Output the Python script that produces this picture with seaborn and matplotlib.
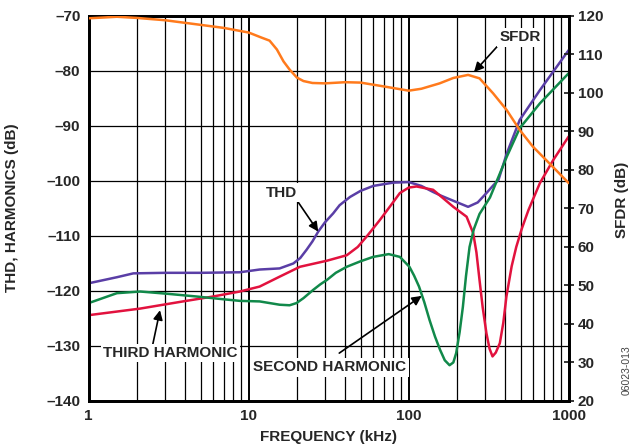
import numpy as np
import pandas as pd
import matplotlib
matplotlib.use("Agg")
import matplotlib.pyplot as plt
from matplotlib.ticker import FixedLocator, FuncFormatter, NullFormatter
import seaborn as sns

# values
SFDR_F = [1, 1.5, 2, 3, 5, 7, 10, 12, 13.5, 15, 16.5, 18, 20, 22, 25, 30, 40, 50,
          70, 100, 120, 156, 190, 235, 277, 337, 409, 494, 596, 758, 1000]
SFDR_DB = [119.4, 119.8, 119.5, 118.9, 117.7, 116.9, 115.7, 114.4, 113.6, 111.3,
           108.2, 106.1, 104.0, 103.1, 102.6, 102.5, 102.8, 102.7, 101.7, 100.6,
           101.1, 102.5, 103.9, 104.7, 103.8, 99.9, 95.6, 90.4, 86.1, 81.7, 76.6]

THD_F = [1, 1.5, 1.9, 3, 5, 8.8, 11.7, 15.6, 19, 21, 23, 25, 27.2, 30, 33.7, 37,
         43, 50, 60, 80, 100, 120, 142, 160, 190, 235, 270, 306, 340, 364, 410,
         494, 660, 1000]
THD_DB = [-118.6, -117.5, -116.8, -116.7, -116.7, -116.6, -116.1, -115.9, -115.0,
          -114.0, -112.5, -111.0, -109.2, -107.5, -105.9, -104.4, -102.9, -101.8,
          -100.9, -100.3, -100.2, -100.9, -102.0, -102.7, -103.6, -104.7, -103.9,
          -102.2, -100.7, -99.8, -95.0, -88.9, -83.5, -76.2]

H3_F = [1, 2.1, 3.7, 6, 8.8, 11.7, 15.6, 20.9, 30.8, 41, 48, 54.6, 66, 77, 88, 100,
        112, 142, 190, 230, 253, 265, 277, 290, 306, 320, 334, 350, 371, 390, 408,
        440, 470, 510, 560, 660, 800, 1000]
H3_DB = [-124.4, -123.2, -122.0, -121.0, -120.1, -119.2, -117.4, -115.6, -114.5,
         -113.5, -112.0, -110.1, -107.1, -104.5, -102.2, -101.2, -101.0, -101.6,
         -104.7, -106.5, -109.5, -113.0, -118.0, -123.0, -127.7, -130.5, -131.9,
         -131.2, -129.5, -125.8, -121.0, -115.5, -112.0, -108.6, -105.3, -100.4,
         -96.2, -91.9]

H2_F = [1, 1.5, 2.1, 3.07, 4.7, 6.9, 8.8, 11.7, 15.6, 18, 19.9, 22, 25.3, 28, 30.8,
        35, 41, 50, 60, 75, 88, 101, 108, 116, 125, 135, 146, 157, 168, 180, 190,
        198, 208, 218, 228, 240, 255, 277, 322, 410, 494, 660, 1000]
H2_DB = [-122.2, -120.4, -120.1, -120.5, -121.0, -121.5, -121.8, -121.9, -122.5,
         -122.6, -122.2, -121.3, -119.8, -118.8, -118.0, -116.7, -115.6, -114.6,
         -113.8, -113.3, -113.8, -115.6, -117.2, -119.2, -122.0, -125.3, -128.3,
         -130.7, -132.6, -133.5, -133.0, -131.3, -127.5, -122.9, -117.3, -112.0,
         -108.8, -106.0, -103.0, -95.6, -90.4, -85.9, -80.4]

LEFT_TICKS = [-140, -130, -120, -110, -100, -90, -80, -70]
RIGHT_TICKS = [20, 30, 40, 50, 60, 70, 80, 90, 100, 110, 120]
X_TICKS = [1, 10, 100, 1000]

ORANGE = "#ff7a1c"
PURPLE = "#5a3ea6"
RED = "#e2123e"
GREEN = "#11894a"

sns.set_style("white")
plt.rcParams["font.family"] = ["Liberation Sans", "DejaVu Sans"]
plt.rcParams["font.weight"] = "bold"
plt.rcParams["font.size"] = 11
plt.rcParams["lines.solid_joinstyle"] = "round"
plt.rcParams["lines.solid_capstyle"] = "round"

left = pd.concat([
    pd.DataFrame({"f": THD_F, "db": THD_DB, "s": "THD"}),
    pd.DataFrame({"f": H3_F, "db": H3_DB, "s": "THIRD HARMONIC"}),
    pd.DataFrame({"f": H2_F, "db": H2_DB, "s": "SECOND HARMONIC"}),
])
right = pd.DataFrame({"f": SFDR_F, "db": SFDR_DB})

fig = plt.figure(figsize=(6.31, 4.48), dpi=100)
ax = fig.add_axes([0.1406, 0.105, 0.7607, 0.8593])

sns.lineplot(data=left, x="f", y="db", hue="s", sort=False,
             palette={"THD": PURPLE, "THIRD HARMONIC": RED, "SECOND HARMONIC": GREEN},
             linewidth=1.8, legend=False, ax=ax, zorder=3)
ax.set_xscale("log")
ax.set_xlim(1, 1000)
ax.set_ylim(-140, -70)

ax2 = ax.twinx()
sns.lineplot(data=right, x="f", y="db", color=ORANGE, linewidth=1.8, ax=ax2, zorder=3)
ax2.set_ylim(20, 120)
ax2.set_xlim(1, 1000)

# grid
ax.xaxis.set_major_locator(FixedLocator(X_TICKS))
ax.xaxis.set_minor_locator(FixedLocator([m * d for d in (1, 10, 100) for m in range(2, 10)]))
ax.xaxis.set_major_formatter(FuncFormatter(lambda v, p: f"{v:g}"))
ax.xaxis.set_minor_formatter(NullFormatter())
ax.set_yticks(LEFT_TICKS)
ax.yaxis.set_major_formatter(FuncFormatter(lambda v, p: f"\u2013{abs(int(v))}"))
ax.grid(True, axis="x", which="major", color="black", linewidth=1.4)
ax.grid(True, axis="x", which="minor", color="black", linewidth=0.9)
ax.grid(True, axis="y", which="major", color="black", linewidth=0.9)
ax.tick_params(axis="both", which="both", length=0, pad=6, labelsize=11)

ax2.set_yticks(RIGHT_TICKS)
ax2.tick_params(axis="y", direction="inout", length=7, width=1.3, pad=3, labelsize=11)
ax2.grid(False)

for a in (ax, ax2):
    for sp in a.spines.values():
        sp.set_linewidth(2)
        sp.set_color("black")
    a.set_xlabel("")
    a.set_ylabel("")

# labels
fig.text(12 / 631, 1 - 208 / 448, "THD, HARMONICS (dB)", rotation=90,
         ha="center", va="center", fontsize=11, fontweight="bold")
fig.text(622 / 631, 1 - 200 / 448, "SFDR (dB)", rotation=90,
         ha="center", va="center", fontsize=11, fontweight="bold")
fig.text(328 / 631, 1 - 437 / 448, "FREQUENCY (kHz)",
         ha="center", va="center", fontsize=11, fontweight="bold")
fig.text(627 / 631, 1 - 370 / 448, "06023-013", rotation=90,
         ha="center", va="center", fontsize=7.5, fontweight="normal", color="#444444")

# annotations (left-axis data coords)
box = dict(boxstyle="square,pad=0.15", facecolor="white", edgecolor="none")
arrow = dict(arrowstyle="-|>", color="black", lw=1.2, mutation_scale=14,
             shrinkA=0, shrinkB=0)
notes = [
    ("SFDR", (497, -73.9), (356, -75.6), (256, -80.2)),
    ("THD", (16.1, -102.1), (20.1, -103.6), (27.2, -109.2)),
    ("THIRD HARMONIC", (3.25, -131.3), (2.51, -129.8), (2.79, -123.5)),
    ("SECOND HARMONIC", (32.2, -133.9), (36.8, -131.3), (120.5, -120.9)),
]
for label, txy, tail, head in notes:
    ax2.annotate("", xy=head, xytext=tail, xycoords=ax.transData,
                 textcoords=ax.transData, arrowprops=arrow, zorder=5)
    ax2.text(txy[0], txy[1], label, transform=ax.transData, ha="center",
             va="center", fontsize=11, fontweight="bold", bbox=box, zorder=6)

fig.savefig("out.png", dpi=100)
